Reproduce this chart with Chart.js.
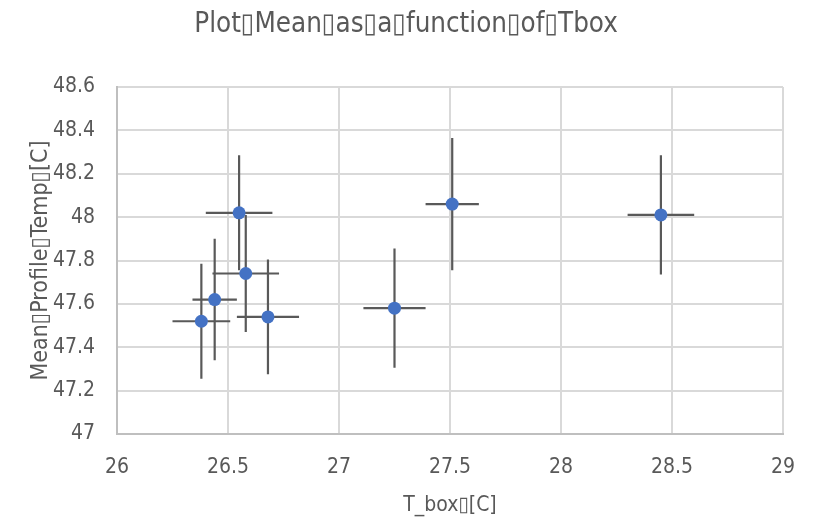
<!DOCTYPE html>
<html>
<head>
<meta charset="utf-8">
<script src="https://cdn.jsdelivr.net/npm/chart.js@4/dist/chart.umd.min.js"></script>
<style>
  html, body { margin: 0; padding: 0; background: #fff; }
  #wrap { width: 826px; height: 522px; }
</style>
</head>
<body>
<div id="wrap"><canvas id="chart" width="826" height="522"></canvas></div>
<script>
// values
var tBox = [26.38, 26.44, 26.55, 26.58, 26.68, 27.25, 27.51, 28.45];
var meanTemp = [47.52, 47.62, 48.02, 47.74, 47.54, 47.58, 48.06, 48.01];
var tBoxErr = [0.13, 0.10, 0.15, 0.15, 0.14, 0.14, 0.12, 0.15];
var tempErr = [0.265, 0.28, 0.265, 0.27, 0.265, 0.275, 0.305, 0.275];

var titleText = 'Plot\u25AFMean\u25AFas\u25AFa\u25AFfunction\u25AFof\u25AFTbox';
var xTitle = 'T_box\u25AF[C]';
var yTitle = 'Mean\u25AFProfile\u25AFTemp\u25AF[C]';

var fontFam = "'Liberation Sans Narrow', 'DejaVu Sans Condensed', 'Roboto', sans-serif";
var grey = '#595959';

var points = [];
for (var i = 0; i < tBox.length; i++) {
    points.push({ x: tBox[i], y: meanTemp[i], xe: tBoxErr[i], ye: tempErr[i] });
}

function fmt(v) {
    return String(Number(v.toFixed(1)));
}

// error bars drawn under the markers
var errorBars = {
    id: 'errorBars',
    beforeDatasetsDraw: function (chart) {
        var ctx = chart.ctx;
        var xs = chart.scales.x, ys = chart.scales.y;
        ctx.save();
        ctx.strokeStyle = '#595959';
        ctx.lineWidth = 2.2;
        points.forEach(function (p) {
            var cx = xs.getPixelForValue(p.x), cy = ys.getPixelForValue(p.y);
            ctx.beginPath();
            ctx.moveTo(xs.getPixelForValue(p.x - p.xe), cy);
            ctx.lineTo(xs.getPixelForValue(p.x + p.xe), cy);
            ctx.moveTo(cx, ys.getPixelForValue(p.y - p.ye));
            ctx.lineTo(cx, ys.getPixelForValue(p.y + p.ye));
            ctx.stroke();
        });
        ctx.restore();
    }
};

new Chart(document.getElementById('chart'), {
    type: 'scatter',
    data: {
        datasets: [{
            data: points,
            backgroundColor: '#4472C4',
            borderColor: '#4472C4',
            pointRadius: 6.5,
            pointHoverRadius: 6.5,
            borderWidth: 0
        }]
    },
    options: {
        responsive: false,
        animation: false,
        events: [],
        layout: { padding: { left: 29, right: 43, top: 0, bottom: 0 } },
        plugins: {
            legend: { display: false },
            tooltip: { enabled: false },
            title: {
                display: true,
                text: titleText,
                color: grey,
                font: { family: fontFam, size: 27.5, weight: 'normal', lineHeight: 1.2 },
                padding: { top: 8, bottom: 46 }
            }
        },
        scales: {
            x: {
                type: 'linear',
                min: 26, max: 29,
                ticks: { stepSize: 0.5, color: grey, padding: 21, callback: fmt,
                         font: { family: fontFam, size: 21 } },
                grid: { color: '#d9d9d9', lineWidth: 2, drawTicks: false },
                border: { color: '#bfbfbf', width: 2 },
                title: {
                    display: true, text: xTitle, color: grey,
                    font: { family: fontFam, size: 21, lineHeight: 1.2 },
                    padding: { top: 0, bottom: 4 }
                },
                afterFit: function (s) { s.height = 88; }
            },
            y: {
                min: 47, max: 48.6,
                ticks: { stepSize: 0.2, color: grey, padding: 22, callback: fmt,
                         font: { family: fontFam, size: 21 } },
                grid: { color: '#d9d9d9', lineWidth: 2, drawTicks: false },
                border: { color: '#bfbfbf', width: 2 },
                title: {
                    display: true, text: yTitle, color: grey,
                    font: { family: fontFam, size: 23, lineHeight: 1 },
                    padding: { top: 1, bottom: 0 }
                },
                afterFit: function (s) { s.width = 88; }
            }
        }
    },
    plugins: [errorBars]
});
</script>
</body>
</html>
